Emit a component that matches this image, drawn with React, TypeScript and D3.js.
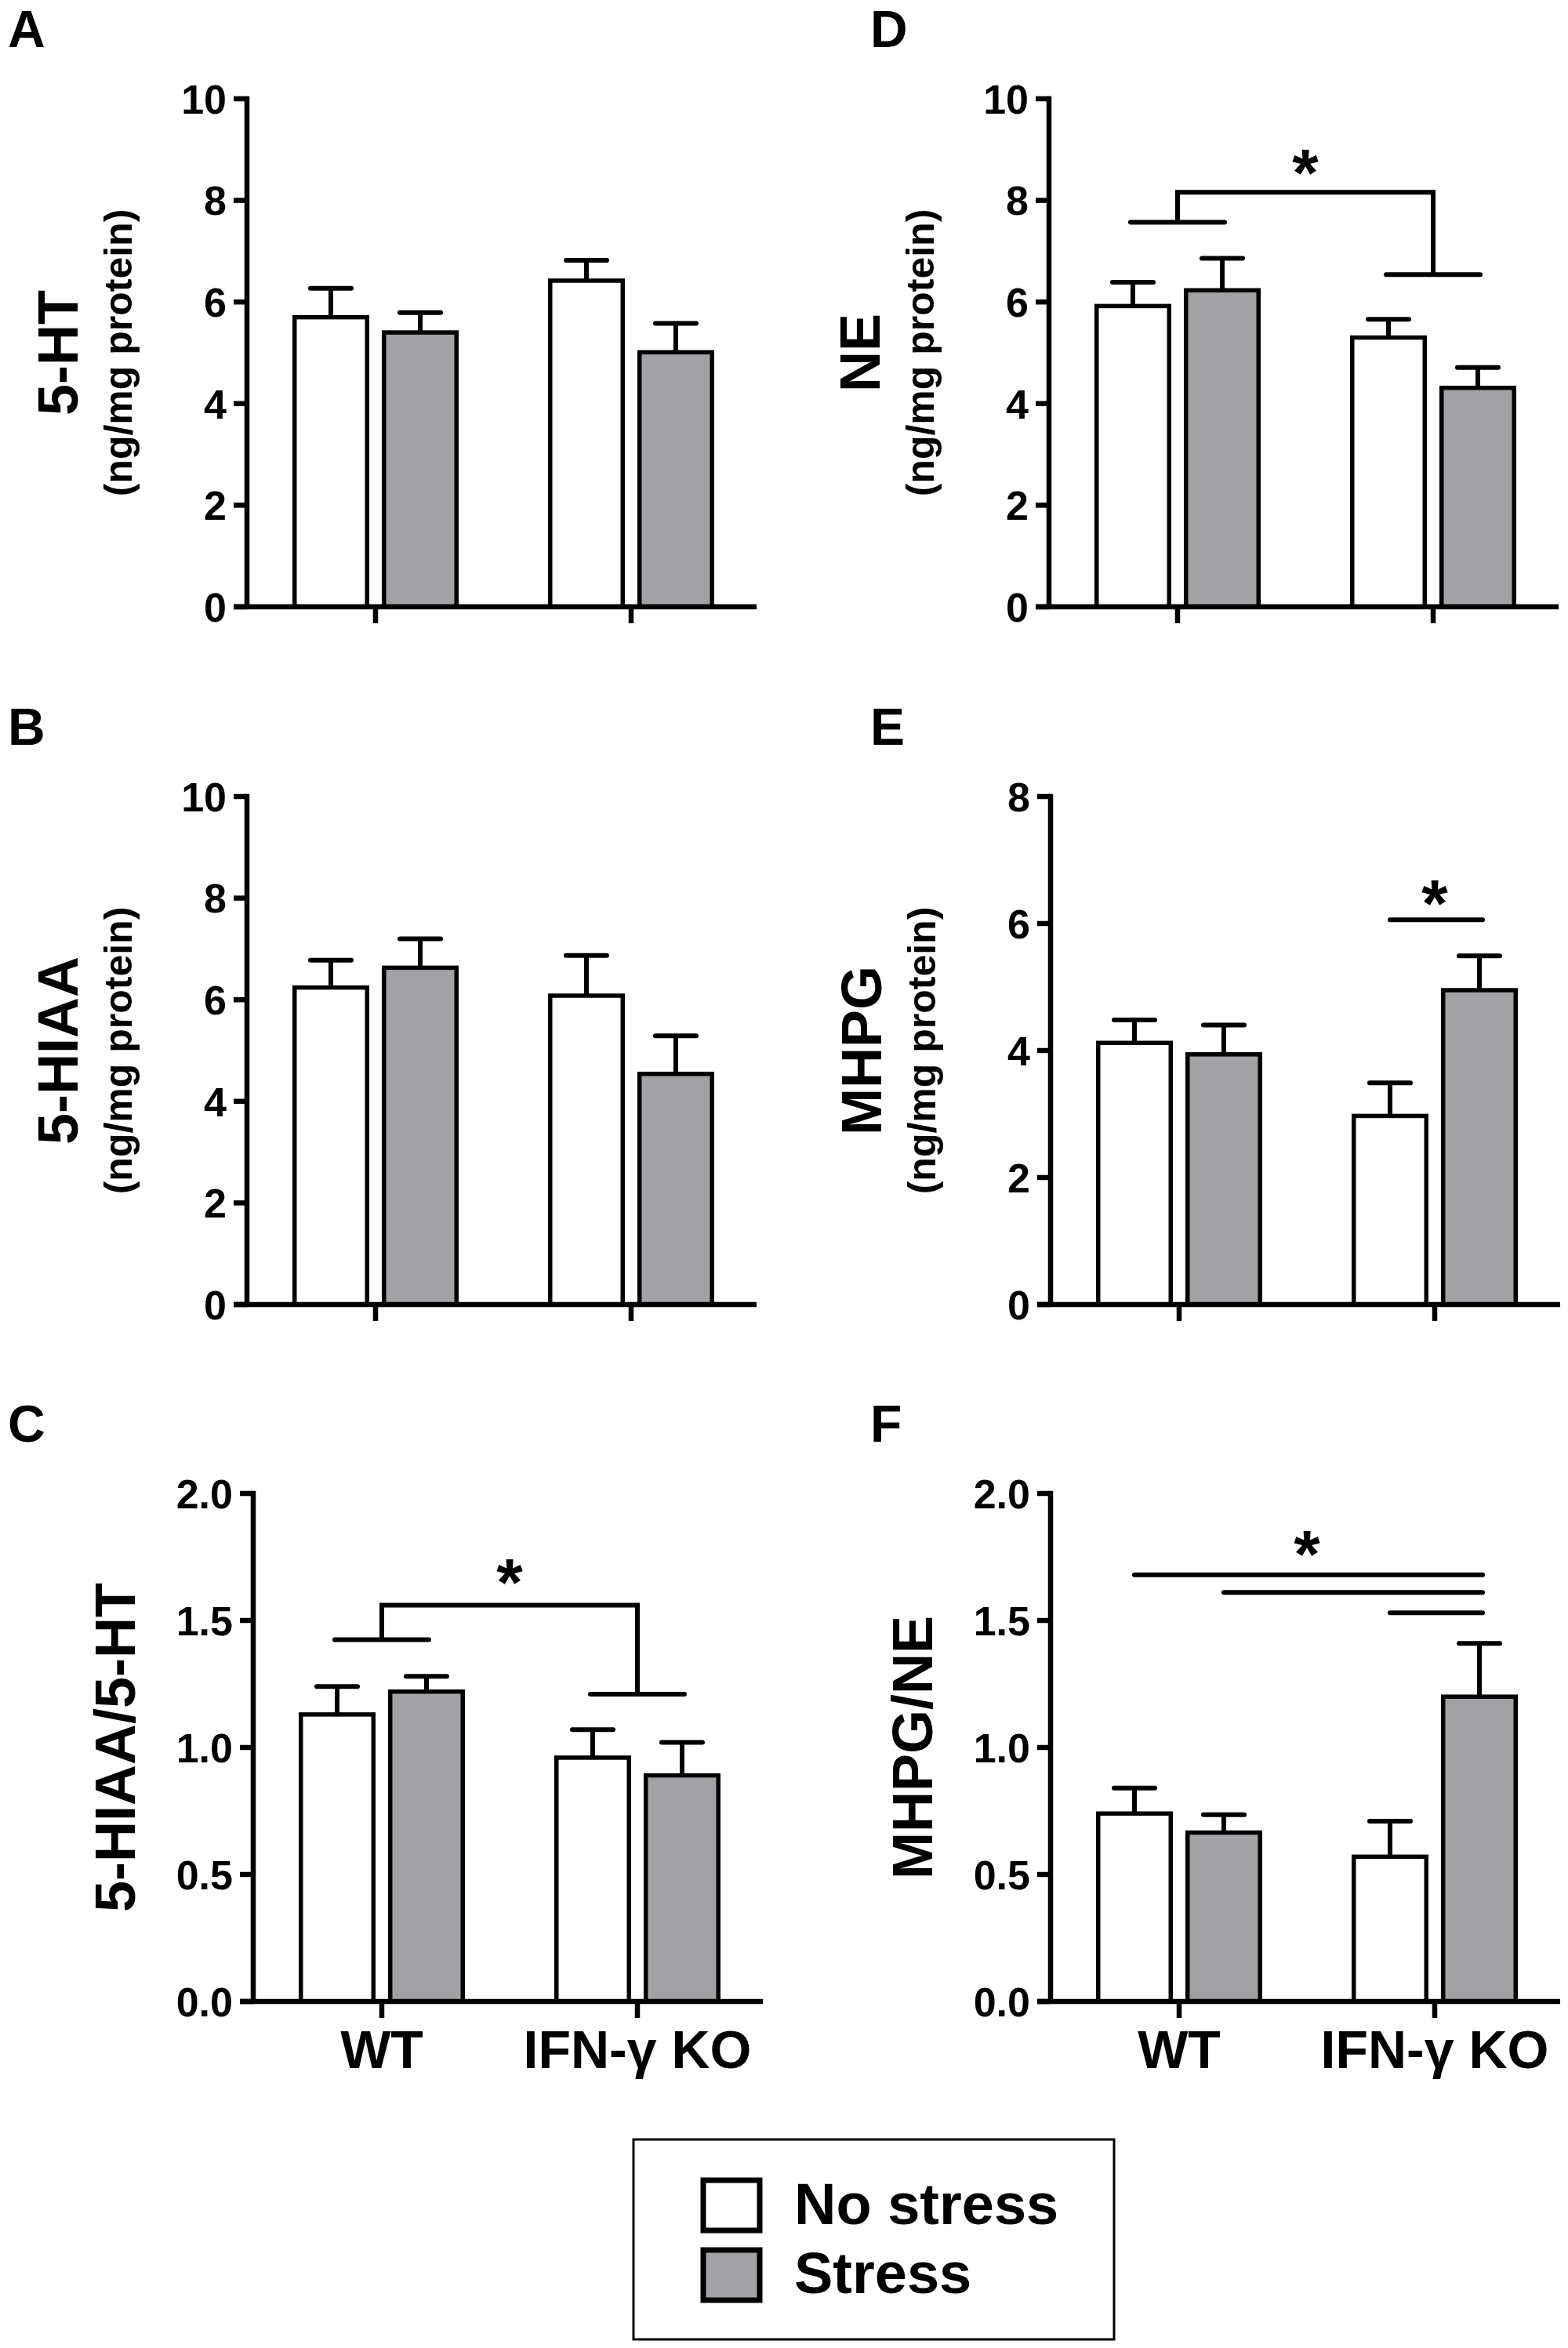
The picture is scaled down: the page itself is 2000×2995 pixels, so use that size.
import * as d3 from 'd3';

const GROUPS = ['WT', 'IFN-γ KO'];
const SERIES = ['No stress', 'Stress'];
const FILLS = ['#ffffff', '#a2a2a6'];

// mean / SEM per group (WT, IFN-γ KO)
const HT_NOSTRESS = [5.7, 6.42];
const HT_NOSTRESS_SEM = [0.57, 0.4];
const HT_STRESS = [5.4, 5.01];
const HT_STRESS_SEM = [0.39, 0.57];

const HIAA_NOSTRESS = [6.24, 6.08];
const HIAA_NOSTRESS_SEM = [0.54, 0.79];
const HIAA_STRESS = [6.63, 4.54];
const HIAA_STRESS_SEM = [0.57, 0.75];

const RATIO_HT_NOSTRESS = [1.13, 0.96];
const RATIO_HT_NOSTRESS_SEM = [0.11, 0.11];
const RATIO_HT_STRESS = [1.22, 0.89];
const RATIO_HT_STRESS_SEM = [0.06, 0.13];

const NE_NOSTRESS = [5.92, 5.3];
const NE_NOSTRESS_SEM = [0.47, 0.36];
const NE_STRESS = [6.23, 4.31];
const NE_STRESS_SEM = [0.63, 0.4];

const MHPG_NOSTRESS = [4.12, 2.97];
const MHPG_NOSTRESS_SEM = [0.36, 0.52];
const MHPG_STRESS = [3.94, 4.95];
const MHPG_STRESS_SEM = [0.46, 0.54];

const RATIO_NE_NOSTRESS = [0.74, 0.57];
const RATIO_NE_NOSTRESS_SEM = [0.1, 0.14];
const RATIO_NE_STRESS = [0.665, 1.2];
const RATIO_NE_STRESS_SEM = [0.07, 0.21];

// significance annotations, in data units
// bracket: [top, left drop, right drop, star]
const NE_BRACKET = [8.16, 7.57, 6.54, 8.84];
const RATIO_HT_BRACKET = [1.56, 1.424, 1.21, 1.71];
// lines: [y, from bar index, to bar index]  (bar index = group*2 + series)
const MHPG_LINES = [[6.06, 2, 3]];
const MHPG_STAR = 6.56;
const RATIO_NE_LINES = [
  [1.68, 0, 3],
  [1.61, 1, 3],
  [1.53, 2, 3],
];
const RATIO_NE_STAR = 1.82;

const FONT = '"Liberation Sans", Arial, Helvetica, sans-serif';
const PLOT_H = 648;
const PLOT_W = 650;
const SW = 5.5; // bar outline
const AW = 6.5; // axes
const EW = 6; // error bars, brackets

type Panel = {
  letter: string;
  x: number; // y-axis position
  top: number;
  max: number;
  nTicks: number;
  fmt: (n: number) => string;
  title: string;
  subtitle?: string;
  noStress: number[];
  noStressSem: number[];
  stress: number[];
  stressSem: number[];
  showX?: boolean;
  bracket?: number[];
  lines?: number[][];
  star?: number;
};

const fInt = d3.format('d');
const f1 = d3.format('.1f');

const PANELS: Panel[] = [
  { letter: 'A', x: 315, top: 126, max: 10, nTicks: 5, fmt: fInt, title: '5-HT', subtitle: '(ng/mg protein)',
    noStress: HT_NOSTRESS, noStressSem: HT_NOSTRESS_SEM, stress: HT_STRESS, stressSem: HT_STRESS_SEM },
  { letter: 'B', x: 315, top: 1016, max: 10, nTicks: 5, fmt: fInt, title: '5-HIAA', subtitle: '(ng/mg protein)',
    noStress: HIAA_NOSTRESS, noStressSem: HIAA_NOSTRESS_SEM, stress: HIAA_STRESS, stressSem: HIAA_STRESS_SEM },
  { letter: 'C', x: 323, top: 1905, max: 2, nTicks: 4, fmt: f1, title: '5-HIAA/5-HT', showX: true,
    noStress: RATIO_HT_NOSTRESS, noStressSem: RATIO_HT_NOSTRESS_SEM, stress: RATIO_HT_STRESS, stressSem: RATIO_HT_STRESS_SEM,
    bracket: RATIO_HT_BRACKET },
  { letter: 'D', x: 1338, top: 126, max: 10, nTicks: 5, fmt: fInt, title: 'NE', subtitle: '(ng/mg protein)',
    noStress: NE_NOSTRESS, noStressSem: NE_NOSTRESS_SEM, stress: NE_STRESS, stressSem: NE_STRESS_SEM,
    bracket: NE_BRACKET },
  { letter: 'E', x: 1340, top: 1016, max: 8, nTicks: 4, fmt: fInt, title: 'MHPG', subtitle: '(ng/mg protein)',
    noStress: MHPG_NOSTRESS, noStressSem: MHPG_NOSTRESS_SEM, stress: MHPG_STRESS, stressSem: MHPG_STRESS_SEM,
    lines: MHPG_LINES, star: MHPG_STAR },
  { letter: 'F', x: 1340, top: 1905, max: 2, nTicks: 4, fmt: f1, title: 'MHPG/NE', showX: true,
    noStress: RATIO_NE_NOSTRESS, noStressSem: RATIO_NE_NOSTRESS_SEM, stress: RATIO_NE_STRESS, stressSem: RATIO_NE_STRESS_SEM,
    lines: RATIO_NE_LINES, star: RATIO_NE_STAR },
];

const Star = ({ x, y }: { x: number; y: number }) => (
  <text x={x} y={y + 0.57 * 86} textAnchor="middle" fontSize={86} fontWeight="bold" fontFamily={FONT} fill="#000">
    *
  </text>
);

const BarPanel = ({ p }: { p: Panel }) => {
  const y = d3.scaleLinear().domain([0, p.max]).range([p.top + PLOT_H, p.top]);
  const xg = d3.scalePoint<string>().domain(GROUPS).range([p.x + 164, p.x + 490]);
  const xs = d3.scaleBand<string>().domain(SERIES).range([-106, 106]).paddingInner(0.14);
  const y0 = y(0);
  const centerY = p.top + PLOT_H / 2;

  const bars = GROUPS.flatMap((g, gi) =>
    SERIES.map((s, si) => {
      const v = si === 0 ? p.noStress[gi] : p.stress[gi];
      const e = si === 0 ? p.noStressSem[gi] : p.stressSem[gi];
      const left = (xg(g) as number) + (xs(s) as number);
      return { g, s, si, v, e, left, cx: left + xs.bandwidth() / 2 };
    })
  );

  const ticks = y.ticks(p.nTicks);

  return (
    <g>
      <text x={p.x < 1000 ? 10 : 1110} y={p.top - 66} fontSize={66} fontWeight="bold" fontFamily={FONT}>
        {p.letter}
      </text>

      {p.subtitle ? (
        <>
          <text
            transform={`translate(${p.x - 216},${centerY}) rotate(-90)`}
            textAnchor="middle"
            fontSize={72}
            fontWeight="bold"
            fontFamily={FONT}
          >
            {p.title}
          </text>
          <text
            transform={`translate(${p.x - 147},${centerY}) rotate(-90)`}
            textAnchor="middle"
            fontSize={50}
            fontWeight="bold"
            fontFamily={FONT}
          >
            {p.subtitle}
          </text>
        </>
      ) : (
        <text
          transform={`translate(${p.x - 151},${centerY}) rotate(-90)`}
          textAnchor="middle"
          fontSize={72}
          fontWeight="bold"
          fontFamily={FONT}
        >
          {p.title}
        </text>
      )}

      {/* error bars */}
      {bars.map((b) => (
        <g key={`e-${b.g}-${b.s}`} stroke="#000" strokeWidth={EW} fill="none">
          <line x1={b.cx} x2={b.cx} y1={y(b.v)} y2={y(b.v + b.e)} />
          <line x1={b.cx - 26} x2={b.cx + 26} y1={y(b.v + b.e)} y2={y(b.v + b.e)} strokeLinecap="round" />
        </g>
      ))}

      {/* bars */}
      {bars.map((b) => (
        <rect
          key={`b-${b.g}-${b.s}`}
          x={b.left + SW / 2}
          y={y(b.v)}
          width={xs.bandwidth() - SW}
          height={y0 - y(b.v)}
          fill={FILLS[b.si]}
          stroke="#000"
          strokeWidth={SW}
          strokeLinejoin="miter"
        />
      ))}

      {/* y axis */}
      <line x1={p.x} x2={p.x} y1={y(p.max) - AW / 2} y2={y0} stroke="#000" strokeWidth={AW} />
      {ticks.map((t) => (
        <g key={`t-${t}`}>
          <line x1={p.x - 17} x2={p.x} y1={y(t)} y2={y(t)} stroke="#000" strokeWidth={AW} />
          <text
            x={p.x - 26}
            y={y(t)}
            dy="0.36em"
            textAnchor="end"
            fontSize={52}
            fontWeight="bold"
            fontFamily={FONT}
          >
            {p.fmt(t)}
          </text>
        </g>
      ))}

      {/* x axis */}
      <line x1={p.x - 17} x2={p.x + PLOT_W} y1={y0} y2={y0} stroke="#000" strokeWidth={AW} />
      {GROUPS.map((g) => (
        <g key={`xg-${g}`}>
          <line x1={xg(g)} x2={xg(g)} y1={y0} y2={y0 + 21} stroke="#000" strokeWidth={AW} />
          {p.showX && (
            <text x={xg(g)} y={y0 + 85} textAnchor="middle" fontSize={68} fontWeight="bold" fontFamily={FONT}>
              {g}
            </text>
          )}
        </g>
      ))}

      {/* bracket comparing genotypes */}
      {p.bracket && (() => {
        const [top, l, r, st] = p.bracket!;
        const gl = xg(GROUPS[0]) as number;
        const gr = xg(GROUPS[1]) as number;
        const half = 60;
        return (
          <g stroke="#000" strokeWidth={EW} fill="none">
            <polyline points={`${gl},${y(l)} ${gl},${y(top)} ${gr},${y(top)} ${gr},${y(r)}`} strokeLinejoin="miter" />
            <line x1={gl - half} x2={gl + half} y1={y(l)} y2={y(l)} strokeLinecap="round" />
            <line x1={gr - half} x2={gr + half} y1={y(r)} y2={y(r)} strokeLinecap="round" />
            <g stroke="none" fill="#000">
              <Star x={(gl + gr) / 2} y={y(st)} />
            </g>
          </g>
        );
      })()}

      {/* pairwise lines */}
      {p.lines && (
        <g stroke="#000" strokeWidth={EW}>
          {p.lines.map(([v, a, c], i) => (
            <line key={i} x1={bars[a].cx} x2={bars[c].cx + 4} y1={y(v)} y2={y(v)} strokeLinecap="round" />
          ))}
        </g>
      )}
      {p.lines && p.star !== undefined && (() => {
        const xs0 = d3.min(p.lines!, (l) => bars[l[1]].cx) as number;
        const xs1 = d3.max(p.lines!, (l) => bars[l[2]].cx) as number;
        return <Star x={(xs0 + xs1) / 2} y={y(p.star!)} />;
      })()}
    </g>
  );
};

const Legend = () => (
  <g fontFamily={FONT} fontWeight="bold">
    <rect x={808} y={2729} width={613} height={255} fill="#fff" stroke="#000" strokeWidth={3} />
    {SERIES.map((s, i) => (
      <g key={s}>
        <rect x={897} y={2781 + i * 89} width={72} height={64} fill={FILLS[i]} stroke="#000" strokeWidth={7} />
        <text x={1013} y={2837 + i * 88} fontSize={74}>
          {s}
        </text>
      </g>
    ))}
  </g>
);

export default function App() {
  return (
    <svg
      width={2000}
      height={2995}
      viewBox="0 0 2000 2995"
      style={{ position: 'absolute', left: 0, top: 0, background: '#fff' }}
    >
      <rect width={2000} height={2995} fill="#fff" />
      {PANELS.map((p) => (
        <BarPanel key={p.letter} p={p} />
      ))}
      <Legend />
    </svg>
  );
}
